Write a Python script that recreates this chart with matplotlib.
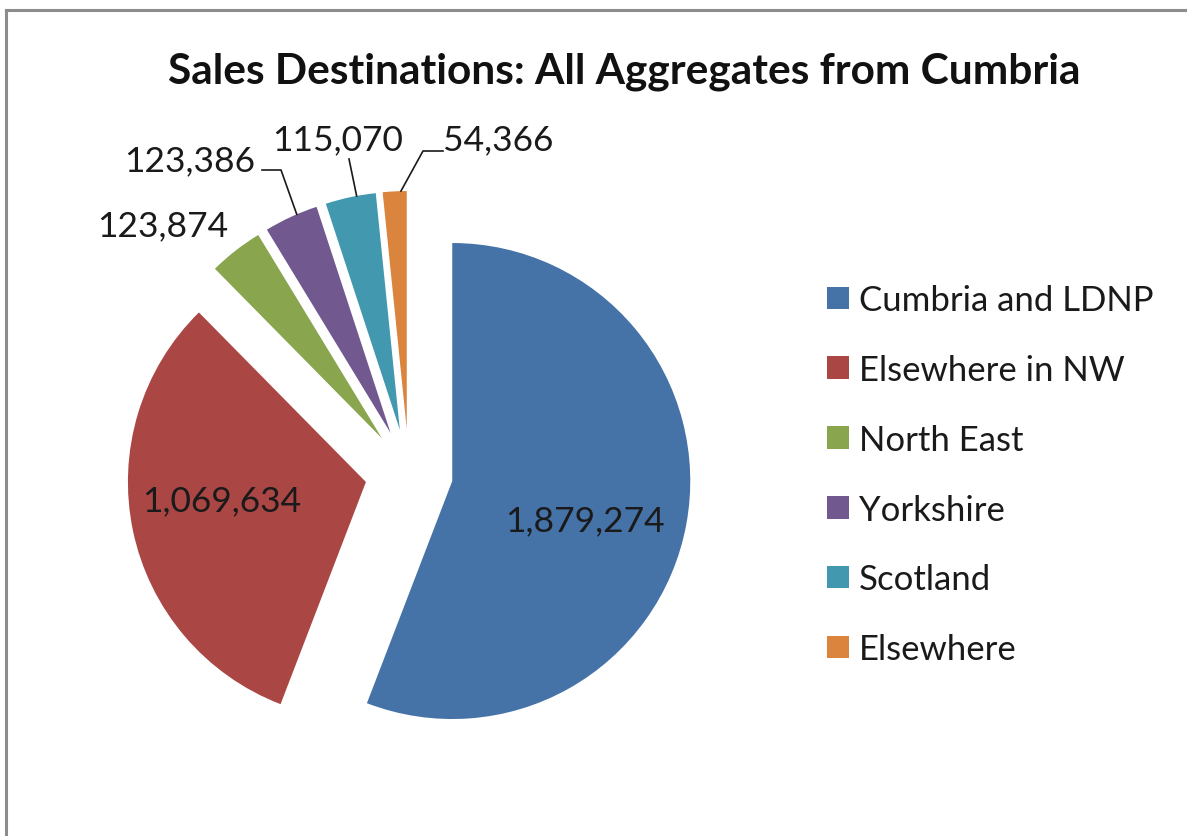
"""Exploded pie: sales destinations of all aggregates from Cumbria."""
import numpy as np
import matplotlib
matplotlib.use("Agg")
import matplotlib.pyplot as plt
from matplotlib.lines import Line2D

# ── Data ──────────────────────────────────────────────────────────────────────
regions = ["Cumbria and LDNP", "Elsewhere in NW", "North East",
           "Yorkshire", "Scotland", "Elsewhere"]
tonnes = [1879274, 1069634, 123874, 123386, 115070, 54366]
colors = ["#4572A7", "#AA4643", "#89A54E", "#71588F", "#4198AF", "#DB843D"]

# ── Layout (pixel space, y up) ────────────────────────────────────────────────
W, H = 1187, 837
CENTER = (409, H - 474)
RADIUS = 238
EXPLODE = 44                      # pie() takes explode in data units
FONT = "Lato"
LBL_SIZE = 25.5
INK = "#1a1a1a"

plt.rcParams["font.family"] = [FONT, "DejaVu Sans"]

fig = plt.figure(figsize=(W / 100, H / 100), dpi=100)
ax = fig.add_axes([0, 0, 1, 1])

wedges, _ = ax.pie(tonnes, colors=colors, startangle=90, counterclock=False,
                   explode=[EXPLODE] * len(tonnes), radius=RADIUS, center=CENTER,
                   wedgeprops=dict(linewidth=0))
ax.set_xlim(0, W)
ax.set_ylim(0, H)
ax.set_aspect("equal")
ax.axis("off")


def _point(w, frac, dtheta=0.0):
    mid = np.deg2rad((w.theta1 + w.theta2) / 2 + dtheta)
    cx, cy = w.center
    return cx + frac * w.r * np.cos(mid), cy + frac * w.r * np.sin(mid)


def _fmt(v):
    return f"{v:,}"


# inside labels for the two big slices
for w, v, frac, dt in zip(wedges[:2], tonnes[:2], [0.58, 0.61], [-6, -4.5]):
    x, y = _point(w, frac, dt)
    ax.text(x, y, _fmt(v), ha="center", va="center", fontsize=LBL_SIZE, color=INK)

# outside labels with leader lines (Excel-style placement)
out_pos = [(163, H - 226), (190, H - 161), (338, H - 140), (498, H - 140)]
elbows = [None, [(262, H - 171), (281, H - 171)], [(349, H - 160)],
          [(443, H - 152), (423, H - 152)]]
for w, v, pos, elb in zip(wedges[2:], tonnes[2:], out_pos, elbows):
    ax.text(pos[0], pos[1], _fmt(v), ha="center", va="center",
            fontsize=LBL_SIZE, color=INK)
    if elb:
        tip = _point(w, 1.0, -1.5)
        pts = elb + [tip]
        ax.plot([p[0] for p in pts], [p[1] for p in pts], color=INK, lw=1.2)

fig.text(624 / W, 1 - 72 / H, "Sales Destinations: All Aggregates from Cumbria",
         ha="center", va="center", fontsize=30.5, fontweight="bold", color="#111111")

ax.legend(wedges, regions, loc="upper left", bbox_to_anchor=(827, H - 285),
          bbox_transform=ax.transData, frameon=False, fontsize=25,
          borderpad=0, borderaxespad=0, handlelength=0.62, handleheight=0.62,
          handletextpad=0.3, labelspacing=1.09, labelcolor=INK)

# grey chart-area frame (only top and left visible in the crop)
fig.add_artist(Line2D([6 / W, 6 / W], [0, 1 - 11 / H], color="#8c8c8c", lw=2.2))
fig.add_artist(Line2D([6 / W, 1], [1 - 11 / H, 1 - 11 / H], color="#8c8c8c", lw=2.2))

fig.savefig("out.png", dpi=100)
